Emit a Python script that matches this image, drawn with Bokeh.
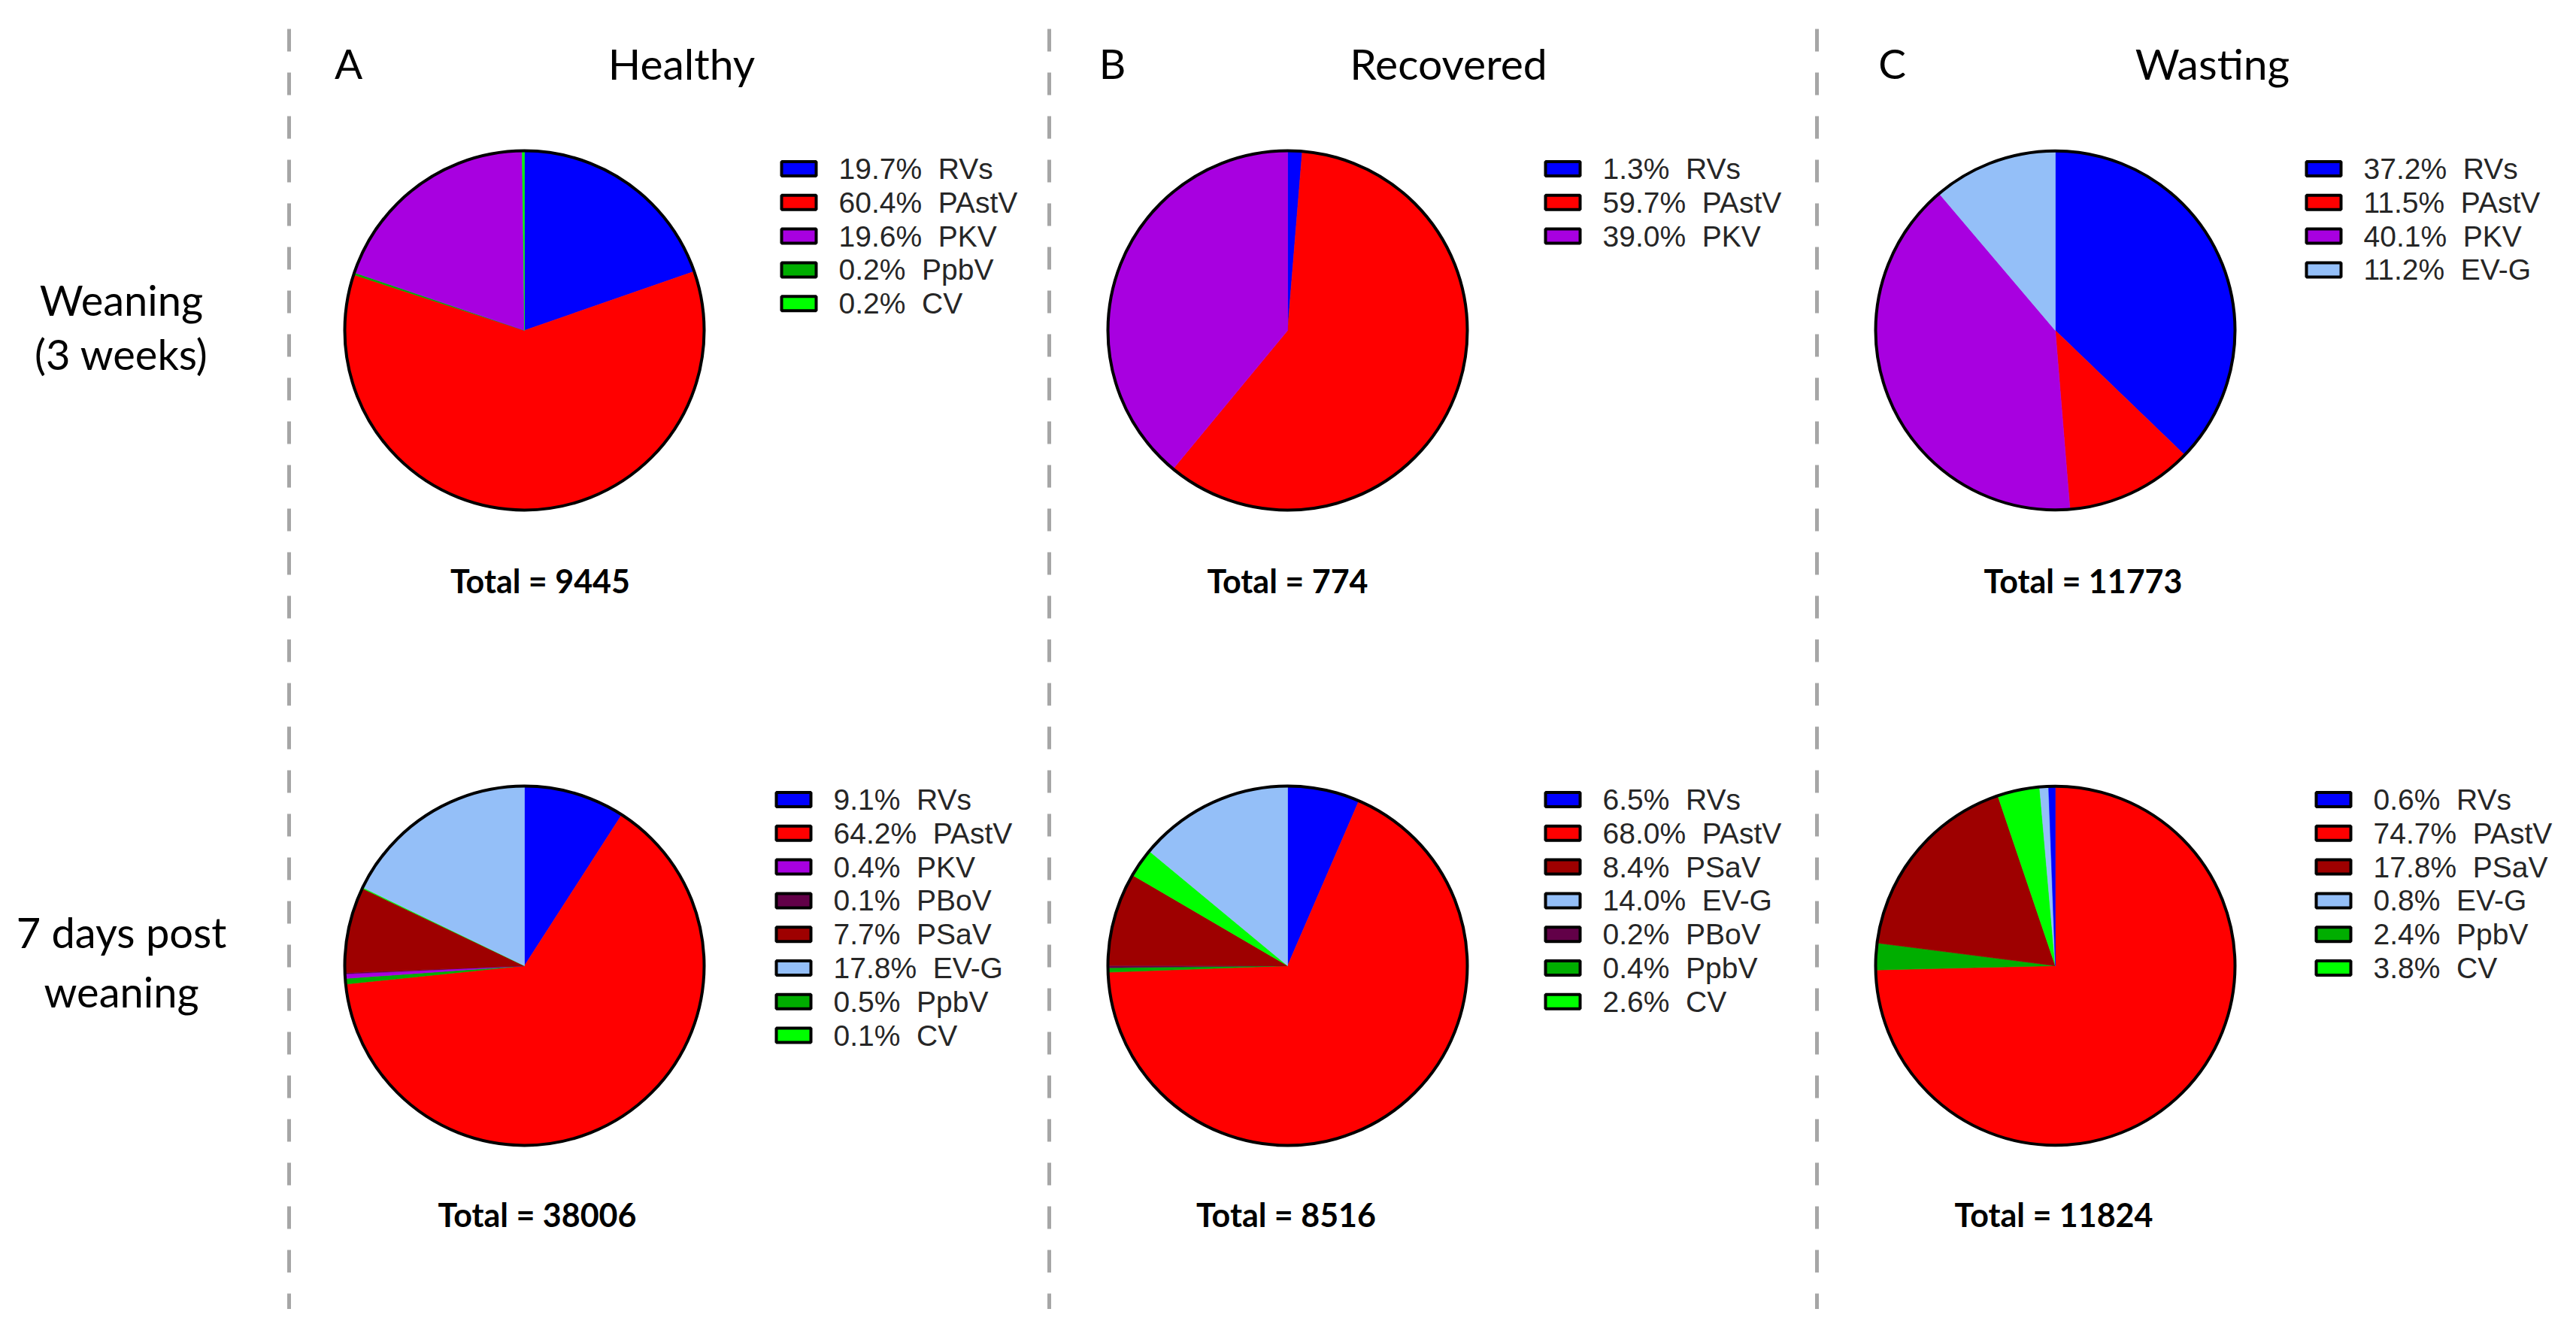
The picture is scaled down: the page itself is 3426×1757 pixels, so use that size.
import math
from bokeh.plotting import figure
from bokeh.models import Range1d, ColumnDataSource
from bokeh.core.properties import value
from bokeh.embed import file_html
from bokeh.resources import INLINE

# ---------------- data ----------------
virus_colors = {
    "RVs": "#0000FF",
    "PAstV": "#FF0000",
    "PKV": "#A800E0",
    "PBoV": "#620048",
    "PSaV": "#9E0000",
    "EV-G": "#94BFF8",
    "PpbV": "#00AE00",
    "CV": "#00FF00",
}

group_titles = ["Healthy", "Recovered", "Wasting"]
group_letters = ["A", "B", "C"]
row_labels = [["Weaning", "(3 weeks)"], ["7 days post", "weaning"]]

# legend order names / percentages, and clockwise pie order from 12 o'clock
healthy_wean_names = ["RVs", "PAstV", "PKV", "PpbV", "CV"]
healthy_wean_pct = [19.7, 60.4, 19.6, 0.2, 0.2]
healthy_wean_order = ["RVs", "PAstV", "PpbV", "PKV", "CV"]
healthy_wean_total = 9445

recovered_wean_names = ["RVs", "PAstV", "PKV"]
recovered_wean_pct = [1.3, 59.7, 39.0]
recovered_wean_order = ["RVs", "PAstV", "PKV"]
recovered_wean_total = 774

wasting_wean_names = ["RVs", "PAstV", "PKV", "EV-G"]
wasting_wean_pct = [37.2, 11.5, 40.1, 11.2]
wasting_wean_order = ["RVs", "PAstV", "PKV", "EV-G"]
wasting_wean_total = 11773

healthy_post_names = ["RVs", "PAstV", "PKV", "PBoV", "PSaV", "EV-G", "PpbV", "CV"]
healthy_post_pct = [9.1, 64.2, 0.4, 0.1, 7.7, 17.8, 0.5, 0.1]
healthy_post_order = ["RVs", "PAstV", "PpbV", "PKV", "PBoV", "PSaV", "CV", "EV-G"]
healthy_post_total = 38006

recovered_post_names = ["RVs", "PAstV", "PSaV", "EV-G", "PBoV", "PpbV", "CV"]
recovered_post_pct = [6.5, 68.0, 8.4, 14.0, 0.2, 0.4, 2.6]
recovered_post_order = ["RVs", "PAstV", "PpbV", "PBoV", "PSaV", "CV", "EV-G"]
recovered_post_total = 8516

wasting_post_names = ["RVs", "PAstV", "PSaV", "EV-G", "PpbV", "CV"]
wasting_post_pct = [0.6, 74.7, 17.8, 0.8, 2.4, 3.8]
wasting_post_order = ["PAstV", "PpbV", "PSaV", "CV", "EV-G", "RVs"]
wasting_post_total = 11824

panels = [
    [(healthy_wean_names, healthy_wean_pct, healthy_wean_order, healthy_wean_total),
     (recovered_wean_names, recovered_wean_pct, recovered_wean_order, recovered_wean_total),
     (wasting_wean_names, wasting_wean_pct, wasting_wean_order, wasting_wean_total)],
    [(healthy_post_names, healthy_post_pct, healthy_post_order, healthy_post_total),
     (recovered_post_names, recovered_post_pct, recovered_post_order, recovered_post_total),
     (wasting_post_names, wasting_post_pct, wasting_post_order, wasting_post_total)],
]

# ---------------- layout (image pixel coords, y down) ----------------
W, H = 3426, 1757
pie_cx = [700, 1715, 2736]
pie_cy = [441, 1286]
pie_r = 239
total_x = [[721, 1715, 2773], [717, 1713, 2734]]
total_y = [774, 1617]
legend_x = [[1040, 2056, 3068], [1033, 2056, 3081]]
legend_y0 = [226, 1065]
legend_dy = 44.8
divider_x = [387, 1398, 2419]
letter_x = [466, 1482, 2519]
title_x = [909, 1929, 2945]
title_y = 85
row_label_x = 164
row_label_y = [[400, 472], [1241, 1320]]
SHIFT_X, SHIFT_Y = 5, 6

def Y(yi):
    return H - yi

p = figure(width=3410, height=1741,
           x_range=Range1d(8 - SHIFT_X, 3418 - SHIFT_X),
           y_range=Range1d(8 + SHIFT_Y, 1749 + SHIFT_Y),
           output_backend="svg", toolbar_location=None, min_border=0,
           x_axis_type=None, y_axis_type=None)
p.grid.visible = False
p.outline_line_color = None
p.background_fill_color = "white"
p.border_fill_color = "white"

# dashed dividers
for dx in divider_x:
    p.line([dx, dx], [Y(40), Y(1765)], line_color="#A6A6A6", line_width=5, line_dash="30 28")

# titles
p.text(x=letter_x, y=[Y(title_y)] * 3, text=group_letters, text_font=value("Lato"),
       text_font_size="55px", text_align="center", text_baseline="middle", text_color="#000000")
p.text(x=title_x, y=[Y(title_y)] * 3, text=group_titles, text_font=value("Lato"),
       text_font_size="57px", text_align="center", text_baseline="middle", text_color="#000000")

# row labels
for r in range(2):
    p.text(x=[row_label_x] * 2, y=[Y(v) for v in row_label_y[r]], text=row_labels[r],
           text_font=value("Lato"), text_font_size="56px", text_align="center",
           text_baseline="middle", text_color="#000000")

NBSP2 = "\u00a0\u00a0"

for r in range(2):
    for c in range(3):
        names, pcts, order, total = panels[r][c]
        lookup = dict(zip(names, pcts))
        s = sum(pcts)
        starts, ends, cols = [], [], []
        acc = 0.0
        for nm in order:
            a = acc / s
            acc += lookup[nm]
            b = acc / s
            starts.append(math.pi / 2 - 2 * math.pi * b)
            ends.append(math.pi / 2 - 2 * math.pi * a)
            cols.append(virus_colors[nm])
        cx, cy = pie_cx[c], Y(pie_cy[r])
        src = ColumnDataSource(dict(x=[cx] * len(order), y=[cy] * len(order),
                                    s=starts, e=ends, c=cols))
        p.wedge(x="x", y="y", radius=pie_r, start_angle="s", end_angle="e",
                fill_color="c", line_color="c", line_width=0.6, source=src)
        p.circle(x=[cx], y=[cy], radius=pie_r, fill_color=None, line_color="#000000",
                 line_width=4)

        # total
        p.text(x=[total_x[r][c]], y=[Y(total_y[r])], text=[f"Total = {total}"],
               text_font=value("Lato"), text_font_style="bold", text_font_size="43px",
               text_align="center", text_baseline="middle", text_color="#000000")

        # legend
        lx = legend_x[r][c]
        ys = [Y(legend_y0[r] + i * legend_dy) for i in range(len(names))]
        p.rect(x=[lx + 25] * len(names), y=ys, width=46, height=19,
               width_units="screen", height_units="screen",
               fill_color=[virus_colors[n] for n in names], line_color="#000000",
               line_width=4)
        p.text(x=[lx + 78] * len(names), y=ys,
               text=[f"{v:.1f}%{NBSP2}{n}" for n, v in zip(names, pcts)],
               text_font=value("Liberation Sans"), text_font_size="39px",
               text_align="left", text_baseline="middle", text_color="#262626")

open("out.html", "w").write(file_html(p, INLINE))
